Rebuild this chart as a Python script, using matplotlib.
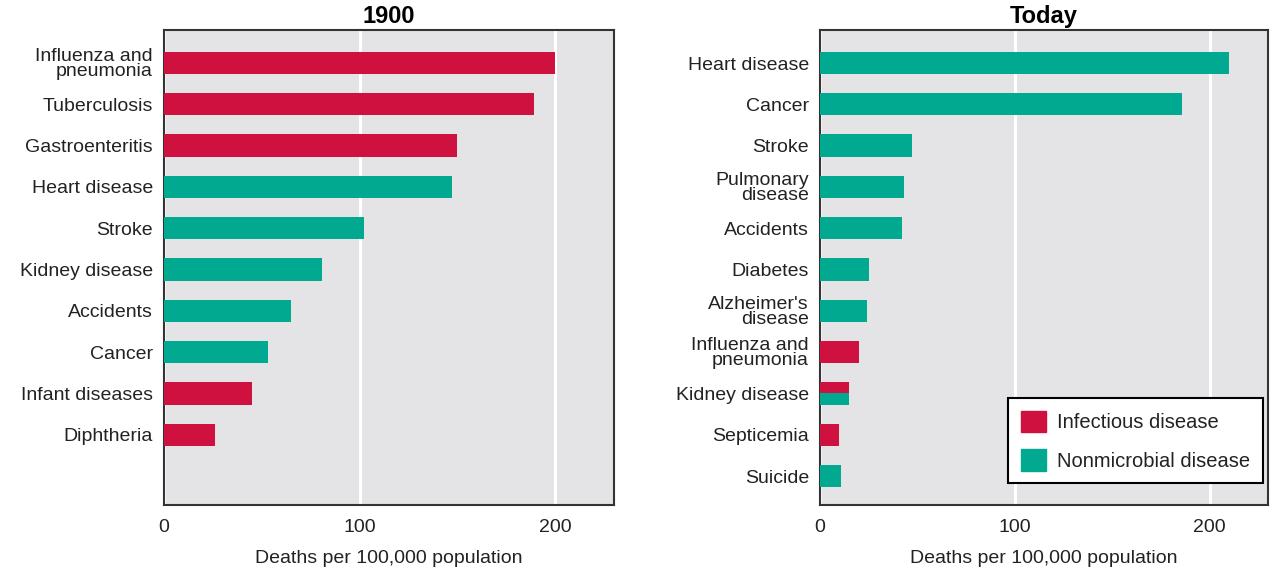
import matplotlib
matplotlib.use("Agg")
import matplotlib.pyplot as plt
from matplotlib.patches import Patch

plt.rcParams['font.family'] = ['Liberation Sans', 'DejaVu Sans']

#DATA
labels_1900 = ["Influenza and\npneumonia", "Tuberculosis", "Gastroenteritis", "Heart disease",
               "Stroke", "Kidney disease", "Accidents", "Cancer", "Infant diseases", "Diphtheria"]
values_1900 = [200, 189, 150, 147, 102, 81, 65, 53, 45, 26]
types_1900 = ["I", "I", "I", "N", "N", "N", "N", "N", "I", "I"]

labels_today = ["Heart disease", "Cancer", "Stroke", "Pulmonary\ndisease", "Accidents", "Diabetes",
                "Alzheimer's\ndisease", "Influenza and\npneumonia", "Kidney disease", "Septicemia", "Suicide"]
values_today = [210, 186, 47, 43, 42, 25, 24, 20, 15, 10, 11]
# "B" = both: bar split half infectious / half nonmicrobial
types_today = ["N", "N", "N", "N", "N", "N", "N", "I", "B", "I", "N"]

xticks = [0, 100, 200]
legend_names = ["Infectious disease", "Nonmicrobial disease"]

RED = "#CF1140"
GREEN = "#00A98F"
BG = "#E4E3E5"
colors = {"I": RED, "N": GREEN}
H = 0.54
FS = 14

fig = plt.figure(figsize=(12.7, 5.85), dpi=100)
ax1 = fig.add_axes([164/1270, 80/585, 450/1270, 475/585])
ax2 = fig.add_axes([820/1270, 80/585, 448/1270, 475/585])


def draw(ax, labels, values, types, title):
	ax.set_facecolor(BG)
	for i, (v, t) in enumerate(zip(values, types)):
		if t == "B":
			ax.barh(i - H/4, v, height=H/2, color=RED, zorder=3)
			ax.barh(i + H/4, v, height=H/2, color=GREEN, zorder=3)
		else:
			ax.barh(i, v, height=H, color=colors[t], zorder=3)
	ax.set_yticks(range(len(labels)))
	ax.set_yticklabels(labels, fontsize=FS, linespacing=0.85, color="#222222")
	ax.set_ylim(10.7, -0.8)
	ax.set_xlim(0, 230)
	ax.set_xticks(xticks)
	ax.tick_params(length=0, labelsize=FS, colors="#222222")
	ax.tick_params(axis="x", pad=10)
	ax.tick_params(axis="y", pad=8)
	ax.xaxis.grid(True, color="white", linewidth=2.2, zorder=1)
	ax.set_axisbelow(True)
	for s in ax.spines.values():
		s.set_color("#333333")
		s.set_linewidth(1.5)
	ax.set_xlabel("Deaths per 100,000 population", fontsize=FS, color="#222222", labelpad=10)
	ax.set_title(title, fontsize=17, fontweight="bold", pad=5)


draw(ax1, labels_1900, values_1900, types_1900, "1900")
draw(ax2, labels_today, values_today, types_today, "Today")

handles = [Patch(color=RED), Patch(color=GREEN)]
leg = ax2.legend(handles, legend_names, loc="lower right", bbox_to_anchor=(0.997, 0.037),
                 fontsize=14.5, fancybox=False, framealpha=1, edgecolor="black",
                 handlelength=1.25, handleheight=1.25, labelspacing=0.85, borderpad=0.62,
                 handletextpad=0.55, borderaxespad=0.2)
leg.get_frame().set_linewidth(1.5)
for t in leg.get_texts():
	t.set_color("#222222")

fig.savefig("out.png", dpi=100)
